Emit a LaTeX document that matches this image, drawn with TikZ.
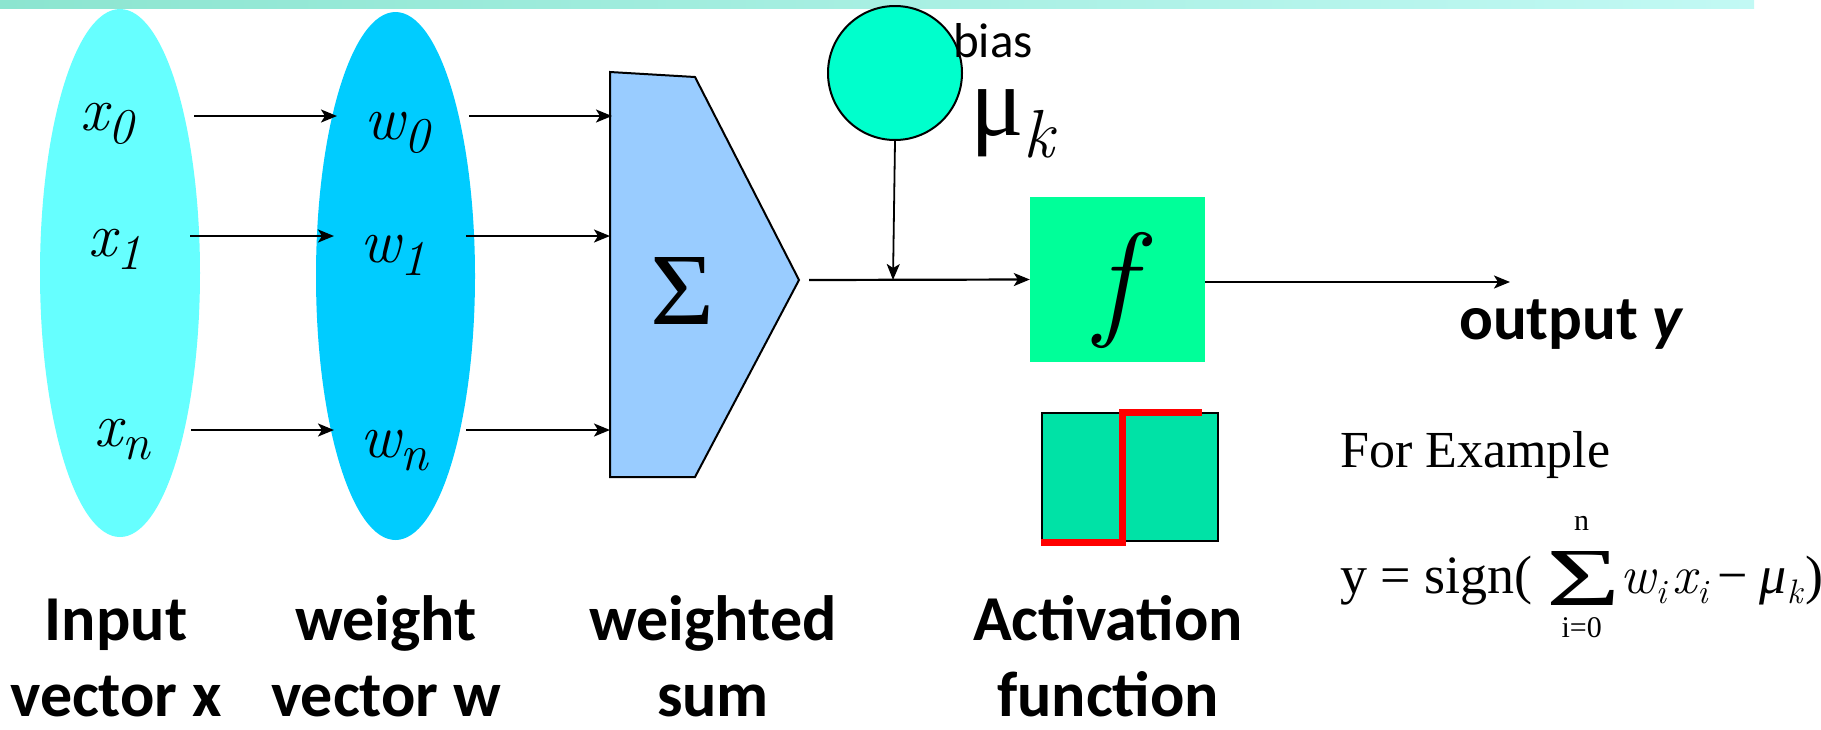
\documentclass[tikz,border=0pt]{standalone}
\usepackage{fontspec}
\setmainfont{Liberation Serif}
\newfontfamily\lblfont{Carlito}
\usepackage{graphicx}
\usepackage{tikz}
\usetikzlibrary{arrows.meta,shapes,positioning}
\definecolor{inC}{HTML}{66FFFF}
\definecolor{wC}{HTML}{00CCFF}
\definecolor{sumC}{HTML}{99CCFF}
\definecolor{biasC}{HTML}{00FFCC}
\definecolor{fC}{HTML}{00FF99}
\definecolor{actC}{RGB}{0,226,166}
\definecolor{barL}{RGB}{140,229,208}
\definecolor{barR}{RGB}{194,249,244}
\newcommand{\lmit}{\usefont{TU}{lmr}{m}{it}}
\newcommand{\vsub}[2]{{\lmit #1\raisebox{-13pt}{\fontsize{50}{50}\selectfont #2}}}
\newcommand{\isub}[2]{{\lmit #1\raisebox{-10pt}{\fontsize{34}{34}\selectfont #2}}}
\newcommand{\sumlim}[2]{\makebox[70pt]{\rlap{\makebox[70pt]{\raisebox{63pt}{\fontsize{30}{30}\selectfont #2}}}%
  \rlap{\makebox[70pt]{\raisebox{-44pt}{\fontsize{30}{30}\selectfont #1}}}%
  \raisebox{-12pt}{\resizebox{74pt}{54pt}{Σ}}}}

\begin{document}
\begin{tikzpicture}[x=1pt, y=-1pt,
    inell/.style={ellipse, fill=inC, minimum width=160pt, minimum height=528pt, inner sep=0pt},
    wtell/.style={ellipse, fill=wC, minimum width=159pt, minimum height=528pt, inner sep=0pt},
    vlab/.style={anchor=base west, inner sep=0pt, font={\fontsize{62}{62}\selectfont}},
    sumshape/.style={draw, line width=2pt, fill=sumC, line join=miter},
    biasnode/.style={draw, circle, line width=2pt, fill=biasC, minimum size=134pt, inner sep=0pt},
    fbox/.style={rectangle, fill=fC, minimum width=175pt, minimum height=165pt, inner sep=0pt},
    actbox/.style={draw, rectangle, line width=2pt, fill=actC, minimum width=176pt, minimum height=128pt, inner sep=0pt},
    redstep/.style={red, line width=7pt, line join=miter},
    lbl/.style={align=center, inner sep=0pt, anchor=base, font={\lblfont\bfseries\fontsize{64}{76}\selectfont}},
    serif/.style={anchor=base west, inner sep=0pt, font={\fontsize{52}{60}\selectfont}},
    formula/.style={anchor=base west, inner sep=0pt, font={\fontsize{54}{60}\selectfont}},
    arr/.style={-{Stealth[length=16pt,width=13pt,inset=4pt]}, line width=2.2pt},
  ]
  \useasboundingbox (0,0) rectangle (1821,729);
  \shade[left color=barL, right color=barR] (0,0) rectangle (1754,8);

  \node[inell] (X) at (120,273) {};
  \node[wtell] (W) at (395.5,276) {};
  \node[vlab] (x0) at (80,130) {\vsub{x}{0}};
  \node[vlab] (x1) at (88,256) {\vsub{x}{1}};
  \node[vlab] (xn) at (94,446) {\vsub{x}{n}};
  \node[vlab] (w0) at (364,139) {\vsub{w}{0}};
  \node[vlab] (w1) at (360,262) {\vsub{w}{1}};
  \node[vlab] (wn) at (360,457) {\vsub{w}{n}};

  \draw[sumshape] (610,72) -- (695,77) -- (799,280) -- (695,477) -- (610,477) -- cycle;
  \node[inner sep=0pt] (S) at (682,291) {\resizebox{64pt}{67pt}{Σ}};

  \coordinate (a0) at (194,116); \coordinate (b0) at (337,116);
  \coordinate (a1) at (190,236); \coordinate (b1) at (334,236);
  \coordinate (an) at (191,430); \coordinate (bn) at (334,430);
  \coordinate (c0) at (469,116); \coordinate (s0) at (612,116);
  \coordinate (c1) at (466,236); \coordinate (s1) at (610,236);
  \coordinate (cn) at (466,430); \coordinate (sn) at (610,430);
  \draw[arr] (a0) -- (b0); \draw[arr] (c0) -- (s0);
  \draw[arr] (a1) -- (b1); \draw[arr] (c1) -- (s1);
  \draw[arr] (an) -- (bn); \draw[arr] (cn) -- (sn);

  \node[biasnode] (B) at (895,73) {};
  \node[anchor=base west, inner sep=0pt, font={\lblfont\fontsize{49}{50}\selectfont}] (bias) at (953,57) {bias};
  \node[anchor=base west, inner sep=0pt] (mu) at (970,135) {{\fontsize{100}{100}\selectfont μ}\raisebox{-22pt}{\fontsize{68}{68}\selectfont\lmit k}};

  \node[fbox] (F) at (1117.5,279.5) {};
  \node[inner sep=0pt, font={\fontsize{128}{128}\selectfont\lmit}] (f) at (1115,290) {f};
  \coordinate (tip) at (809,280);
  \coordinate (jn) at (893,280);
  \coordinate (out) at (1510,282);
  \draw[arr] (tip) -- (F.west);
  \draw[arr, line width=1.8pt] (B.south) -- (jn);
  \draw[arr] (F.east |- out) -- (out);
  \node[anchor=base west, inner sep=0pt, font={\lblfont\bfseries\fontsize{63}{63}\selectfont}] (oy) at (1459,339) {output \textit{y}};

  \node[actbox] (A) at (1130,477) {};
  \draw[redstep] (A.south west) -- ([xshift=-8pt]A.south) -- ([xshift=-8pt]A.north) -- ([xshift=72pt]A.north);

  \node[serif] (ex) at (1340,467) {For Example};
  \node[formula] (eq) at (1340,593) {y = sign(\hspace{16pt}\sumlim{i=0}{n}\hspace{2pt}\isub{w}{i}\hspace{7pt}\isub{x}{i}\hspace{10pt}−\hspace{12pt}\textit{μ}\raisebox{-10pt}{\fontsize{34}{34}\selectfont\lmit k}\hspace{3pt})};

  \node[lbl] (L1) at (116,716) {Input\\vector x};
  \node[lbl] (L2) at (386,716) {weight\\vector w};
  \node[lbl] (L3) at (713,716) {weighted\\sum};
  \node[lbl] (L4) at (1108,716) {Activation\\function};
\end{tikzpicture}
\end{document}
